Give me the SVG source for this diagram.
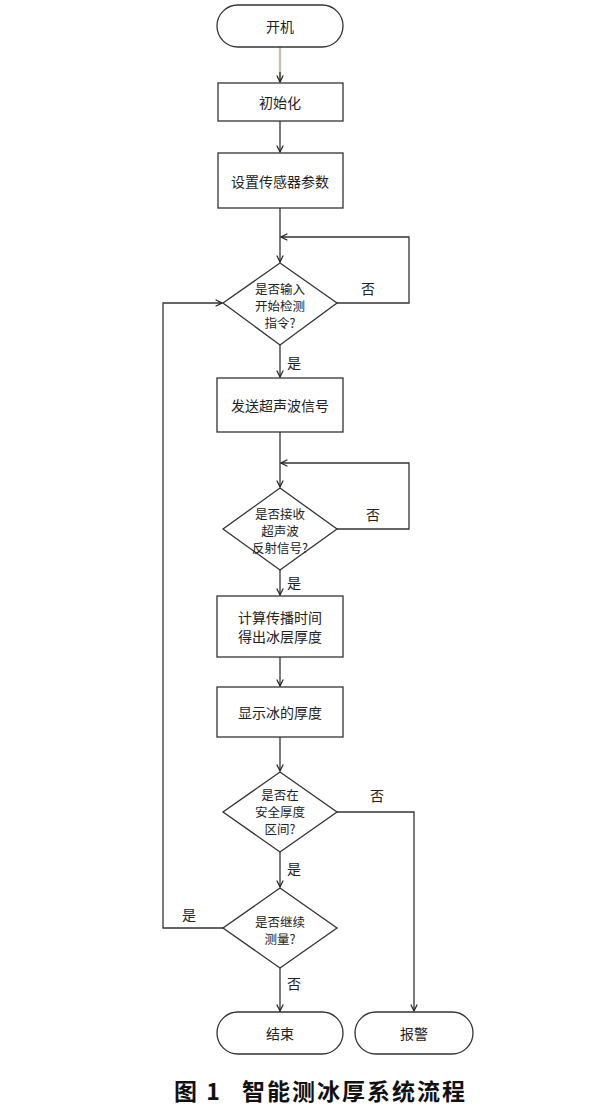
<svg xmlns="http://www.w3.org/2000/svg" width="600" height="1118" viewBox="0 0 600 1118">
<defs>
<marker id="ar" viewBox="0 0 10 10" refX="9" refY="5" markerWidth="8" markerHeight="8" markerUnits="userSpaceOnUse" orient="auto">
<path d="M1,1 L9,5 L1,9" fill="none" stroke="#222" stroke-width="1.5"/>
</marker>
</defs>
<style>
.n{fill:#fff;stroke:#333;stroke-width:1.3}
.t{font-family:"Noto Sans CJK SC","Noto Sans",sans-serif;font-size:14px;fill:#222;text-anchor:middle;dominant-baseline:central}
.d{font-size:12.5px}
.c{fill:none;stroke:#333;stroke-width:1.3;marker-end:url(#ar)}
.cap{font-family:"Noto Sans CJK SC",sans-serif;font-size:23px;font-weight:bold;fill:#111;letter-spacing:2px}
</style>
<rect width="600" height="1118" fill="#fff"/>
<g id="connectors">
<line x1="280" y1="47" x2="280" y2="82" stroke="#c9c3ad" stroke-width="2.5"/>
<path class="c" d="M280,72 L280,82"/>
<path class="c" d="M280,121 L280,152"/>
<path class="c" d="M280,208 L280,262"/>
<path class="c" d="M337,303 L409,303 L409,237 L281,237"/>
<path class="c" d="M280,345 L280,377"/>
<path class="c" d="M280,432 L280,487"/>
<path class="c" d="M337,529 L409,529 L409,463 L281,463"/>
<path class="c" d="M280,570 L280,595"/>
<path class="c" d="M280,657 L280,686"/>
<path class="c" d="M280,737 L280,771"/>
<path class="c" d="M337,812 L414,812 L414,1011"/>
<path class="c" d="M280,852 L280,887"/>
<path class="c" d="M223,928 L163,928 L163,303 L222,303"/>
<path class="c" d="M280,968 L280,1011"/>
<text class="t" x="368" y="288">否</text>
<text class="t" x="294" y="362">是</text>
<text class="t" x="373" y="514">否</text>
<text class="t" x="294" y="582">是</text>
<text class="t" x="377" y="795">否</text>
<text class="t" x="294" y="868">是</text>
<text class="t" x="189" y="914">是</text>
<text class="t" x="294" y="983">否</text>
</g>
<g id="start"><rect class="n" x="217" y="5" width="126" height="42" rx="21"/><text class="t" x="280" y="26">开机</text></g>
<g id="init"><rect class="n" x="218" y="83" width="125" height="38"/><text class="t" x="280" y="102">初始化</text></g>
<g id="setup"><rect class="n" x="218" y="153" width="125" height="55"/><text class="t" x="280" y="181">设置传感器参数</text></g>
<g id="d1"><polygon class="n" points="280,263 337,303 280,345 223,303"/><text class="t d" x="280" y="288">是否输入</text><text class="t d" x="280" y="305">开始检测</text><text class="t d" x="280" y="322">指令?</text></g>
<g id="send"><rect class="n" x="217" y="378" width="126" height="54"/><text class="t" x="280" y="405">发送超声波信号</text></g>
<g id="d2"><polygon class="n" points="280,488 337,529 280,570 223,529"/><text class="t d" x="280" y="513">是否接收</text><text class="t d" x="280" y="530">超声波</text><text class="t d" x="280" y="547">反射信号?</text></g>
<g id="calc"><rect class="n" x="217" y="596" width="126" height="61"/><text class="t" x="280" y="617" font-size="13.5">计算传播时间</text><text class="t" x="280" y="636" font-size="13.5">得出冰层厚度</text></g>
<g id="show"><rect class="n" x="217" y="687" width="126" height="50"/><text class="t" x="280" y="712">显示冰的厚度</text></g>
<g id="d3"><polygon class="n" points="280,772 337,812 280,852 223,812"/><text class="t d" x="280" y="794">是否在</text><text class="t d" x="280" y="811">安全厚度</text><text class="t d" x="280" y="828">区间?</text></g>
<g id="d4"><polygon class="n" points="280,888 337,928 280,968 223,928"/><text class="t d" x="280" y="921">是否继续</text><text class="t d" x="280" y="938">测量?</text></g>
<g id="end"><rect class="n" x="217" y="1012" width="126" height="42" rx="21"/><text class="t" x="280" y="1033">结束</text></g>
<g id="alarm"><rect class="n" x="355" y="1012" width="118" height="42" rx="21"/><text class="t" x="414" y="1033">报警</text></g>
<text class="cap" x="174" y="1100">图 1<tspan x="242">智能测冰厚系统流程</tspan></text>
</svg>
